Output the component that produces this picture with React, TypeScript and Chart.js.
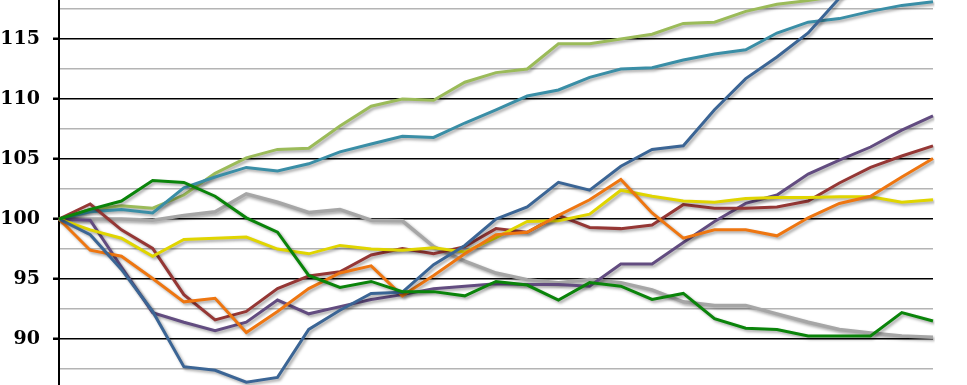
import React, { useEffect, useRef } from "react";
import { Chart, registerables } from "chart.js";

Chart.register(...registerables);

const periods = Array.from({ length: 29 }, (_, i) => String(i + 1));

const lightGreen = [100, 100.8, 101.1, 100.9, 102.0, 103.8, 105.1, 105.8, 105.9, 107.75, 109.4, 110.0, 109.9, 111.4, 112.2, 112.5, 114.6, 114.6, 115.0, 115.4, 116.3, 116.4, 117.3, 117.9, 118.2, 118.6, 119.1, 119.6, 120.1];
const teal = [100, 100.6, 100.8, 100.5, 102.6, 103.5, 104.3, 104.0, 104.6, 105.6, 106.25, 106.9, 106.8, 108.0, 109.1, 110.25, 110.75, 111.8, 112.5, 112.6, 113.25, 113.75, 114.1, 115.5, 116.4, 116.7, 117.3, 117.8, 118.1];
const blue = [100, 98.7, 95.8, 92.3, 87.7, 87.4, 86.4, 86.8, 90.8, 92.4, 93.8, 93.9, 96.2, 97.8, 100.0, 101.0, 103.05, 102.4, 104.4, 105.8, 106.1, 109.1, 111.7, 113.5, 115.5, 118.4, 121.0, 123.5, 126.0];
const purple = [100, 99.9, 96.0, 92.2, 91.4, 90.7, 91.4, 93.25, 92.1, 92.7, 93.3, 93.7, 94.2, 94.4, 94.6, 94.55, 94.55, 94.4, 96.25, 96.25, 98.05, 99.8, 101.3, 102.0, 103.75, 104.9, 106.0, 107.4, 108.6];
const red = [100, 101.25, 99.1, 97.55, 93.7, 91.6, 92.3, 94.2, 95.25, 95.6, 97.0, 97.55, 97.1, 97.7, 99.2, 98.9, 100.3, 99.3, 99.2, 99.5, 101.2, 100.9, 100.9, 101.0, 101.5, 103.0, 104.3, 105.25, 106.1];
const orange = [100, 97.4, 96.9, 95.05, 93.1, 93.4, 90.55, 92.3, 94.2, 95.5, 96.1, 93.6, 95.3, 97.1, 98.7, 98.9, 100.3, 101.6, 103.3, 100.5, 98.4, 99.1, 99.1, 98.6, 100.1, 101.3, 101.9, 103.5, 105.05];
const yellow = [100, 99.1, 98.4, 96.9, 98.3, 98.4, 98.5, 97.5, 97.1, 97.8, 97.5, 97.4, 97.6, 97.25, 98.45, 99.8, 99.85, 100.4, 102.4, 101.9, 101.5, 101.4, 101.7, 101.8, 101.8, 101.85, 101.85, 101.4, 101.6];
const green = [100, 100.8, 101.5, 103.2, 103.05, 101.9, 100.1, 98.9, 95.3, 94.3, 94.8, 93.95, 93.95, 93.6, 94.8, 94.5, 93.25, 94.7, 94.4, 93.3, 93.8, 91.7, 90.9, 90.8, 90.25, 90.25, 90.25, 92.2, 91.5];
const gray = [100, 100.0, 100.0, 99.9, 100.3, 100.6, 102.1, 101.4, 100.55, 100.8, 99.9, 99.85, 97.7, 96.5, 95.5, 94.95, 94.7, 94.95, 94.7, 94.1, 93.1, 92.8, 92.8, 92.1, 91.4, 90.8, 90.5, 90.25, 90.15];

const yTicks = [87.5, 90, 92.5, 95, 97.5, 100, 102.5, 105, 107.5, 110, 112.5, 115, 117.5];
const yMin = 86.17;
const yMax = 118.25;

const shadowPlugin = {
  id: "lineShadow",
  beforeDatasetDraw(chart: any) {
    const ctx = chart.ctx;
    ctx.save();
    ctx.shadowColor = "rgba(0,0,0,0.35)";
    ctx.shadowBlur = 3;
    ctx.shadowOffsetX = 2;
    ctx.shadowOffsetY = 2;
  },
  afterDatasetDraw(chart: any) {
    chart.ctx.restore();
  },
};

export default function App() {
  const ref = useRef<HTMLCanvasElement | null>(null);
  useEffect(() => {
    if (!ref.current) return;
    const mk = (data: number[], color: string, width = 3) => ({
      data,
      borderColor: color,
      backgroundColor: color,
      borderWidth: width,
      pointRadius: 0,
      tension: 0,
      fill: false,
    });
    const chart = new Chart(ref.current, {
      type: "line",
      data: {
        labels: periods,
        datasets: [
          mk(green, "#0A840A"),
          mk(blue, "#3B6595"),
          mk(orange, "#EE7611"),
          mk(yellow, "#E0D500"),
          mk(red, "#953735"),
          mk(purple, "#624C80"),
          mk(teal, "#3A8EA6"),
          mk(lightGreen, "#9BBB59"),
          mk(gray, "#A6A6A6", 3.5),
        ],
      },
      plugins: [shadowPlugin],
      options: {
        animation: false,
        responsive: false,
        devicePixelRatio: 1,
        layout: { padding: { left: 0, top: 0, right: 34, bottom: 0 } },
        plugins: { legend: { display: false }, tooltip: { enabled: false } },
        scales: {
          x: { display: false, offset: false },
          y: {
            min: yMin,
            max: yMax,
            afterBuildTicks: (scale: any) => {
              scale.ticks = yTicks.map((v) => ({ value: v }));
            },
            afterFit: (scale: any) => {
              scale.width = 59;
              scale.paddingTop = 0;
              scale.paddingBottom = 0;
            },
            border: { display: true, color: "#000", width: 2 },
            grid: {
              color: (c: any) => (c.tick && c.tick.value % 5 === 0 ? "#000" : "#B4B4B4"),
              tickColor: (c: any) => (c.tick && c.tick.value % 5 === 0 ? "#000" : "rgba(0,0,0,0)"),
              lineWidth: 1.5,
              tickLength: 6,
              tickWidth: 2.5,
            },
            ticks: {
              padding: 13,
              color: "#000",
              font: { family: "'DejaVu Serif'", size: 19, weight: "bold" },
              callback: (v: any) => (Number(v) % 5 === 0 ? String(v) : ""),
            },
          },
        },
      },
    });
    return () => chart.destroy();
  }, []);
  return (
    <div style={{ position: "fixed", left: 0, top: 0, width: 967, height: 385, background: "#fff" }}>
      <canvas ref={ref} width={967} height={385} />
    </div>
  );
}
